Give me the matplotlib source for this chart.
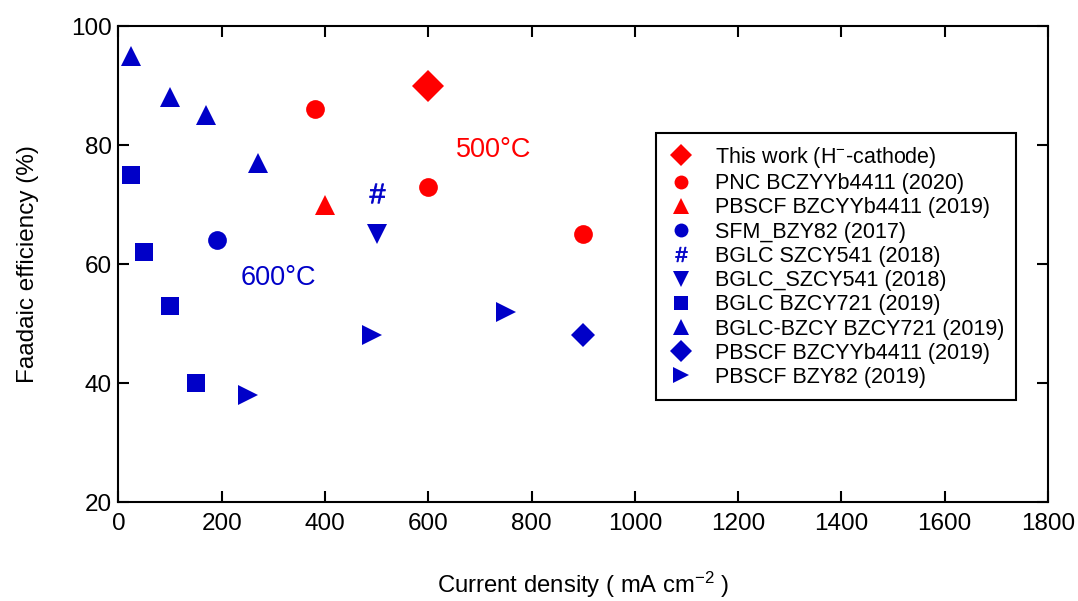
import matplotlib
matplotlib.use("Agg")
import matplotlib.pyplot as plt
from matplotlib.lines import Line2D

plt.rcParams['font.family'] = ['Liberation Sans', 'DejaVu Sans']
plt.rcParams['mathtext.fontset'] = 'custom'
plt.rcParams['mathtext.rm'] = 'Liberation Sans'
plt.rcParams['mathtext.it'] = 'Liberation Sans:italic'
plt.rcParams['mathtext.bf'] = 'Liberation Sans:bold'

RED = '#FF0000'
BLUE = '#0000C8'

# Literature and this-work data: current density (mA cm^-2) vs Faradaic efficiency (%)
labels = [
    'This work (H$^{-}$-cathode)',
    'PNC BCZYYb4411 (2020)',
    'PBSCF BZCYYb4411 (2019)',
    'SFM_BZY82 (2017)',
    'BGLC SZCY541 (2018)',
    'BGLC_SZCY541 (2018)',
    'BGLC BZCY721 (2019)',
    'BGLC-BZCY BZCY721 (2019)',
    'PBSCF BZCYYb4411 (2019)',
    'PBSCF BZY82 (2019)',
]
current = [
    [600],
    [380, 600, 900],
    [400],
    [190],
    [500],
    [500],
    [25, 50, 100, 150],
    [25, 100, 170, 270],
    [900],
    [250, 490, 750],
]
efficiency = [
    [90],
    [86, 73, 65],
    [70],
    [64],
    [72],
    [65],
    [75, 62, 53, 40],
    [95, 88, 85, 77],
    [48],
    [38, 48, 52],
]
colors = [RED, RED, RED, BLUE, BLUE, BLUE, BLUE, BLUE, BLUE, BLUE]
markers = ['D', 'o', '^', 'o', r'$\#$', 'v', 's', '^', 'D', '>']
sizes = [16.5, 13.5, 14.5, 13.5, 14, 14.5, 13.2, 14.5, 12.5, 14]
legend_sizes = [11, 10, 11, 10, 10.5, 11, 10, 11, 11, 11]

fig = plt.figure(figsize=(10.78, 6.01), dpi=100)
ax = fig.add_axes([0.1099, 0.1647, 0.8623, 0.7920])

for x, y, c, m, s in zip(current, efficiency, colors, markers, sizes):
    ax.plot(x, y, linestyle='none', marker=m, color=c, markersize=s,
            markeredgewidth=0 if m != r'$\#$' else 0.6)

ax.set_xlim(0, 1800)
ax.set_ylim(20, 100)
ax.set_xticks(range(0, 1801, 200))
ax.set_yticks(range(20, 101, 20))

ax.tick_params(direction='in', length=8, width=1.5, top=True, right=True,
               labelsize=17.5, pad=5)
ax.tick_params(axis='x', pad=8)
for sp in ax.spines.values():
    sp.set_linewidth(1.5)

ax.set_xlabel('Current density ( mA cm$^{-2}$ )', fontsize=17.2, labelpad=25)
ax.set_ylabel('Faadaic efficiency (%)', fontsize=17.5, labelpad=23)

ax.text(727, 79.2, '500°C', color=RED, fontsize=19.5, ha='center', va='center')
ax.text(309, 57.6, '600°C', color=BLUE, fontsize=19.5, ha='center', va='center')

handles = [Line2D([], [], linestyle='none', marker=m, color=c, markersize=s,
                  markeredgewidth=0 if m != r'$\#$' else 0.6)
           for c, m, s in zip(colors, markers, legend_sizes)]
leg = ax.legend(handles, labels, loc='upper left', bbox_to_anchor=(0.578, 0.775),
                borderaxespad=0, fontsize=15.5, frameon=True, fancybox=False,
                edgecolor='black', framealpha=1, labelspacing=0.15,
                handlelength=1.2, handletextpad=1.0, borderpad=0.55)
leg.get_frame().set_linewidth(1.5)

fig.savefig('out.png', dpi=100)
